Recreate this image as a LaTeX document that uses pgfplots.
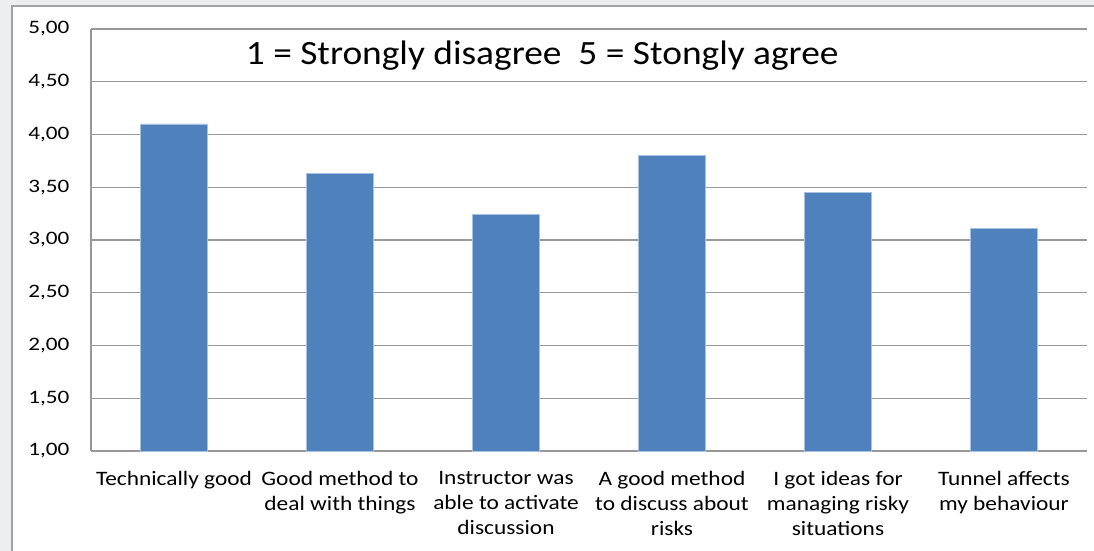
\documentclass[border=0pt]{standalone}
\usepackage{pgfplots}
\pgfplotsset{compat=1.18}
\usepackage{fontspec}
\setmainfont{Carlito}
\newfontfamily\tickfont[FakeStretch=1.22]{Carlito}
\newfontfamily\labfont[FakeStretch=1.14]{Carlito}
\newfontfamily\titlefont[FakeStretch=1.1]{Carlito}
\definecolor{barblue}{HTML}{4F81BD}
\definecolor{baredge}{HTML}{A9C1E0}
\definecolor{gridgray}{HTML}{989898}
\definecolor{bggray}{HTML}{EDEEF0}
\definecolor{bordergray}{HTML}{A3A3A3}
\begin{document}
\begin{tikzpicture}[x=1pt,y=1pt]
\useasboundingbox (0,0) rectangle (1094,551);
\fill[bggray] (0,0) rectangle (1094,551);
\filldraw[fill=white,draw=bordergray,line width=1.2pt] (12,-5) rectangle (1110,545);
\begin{axis}[
  at={(91pt,100pt)}, anchor=south west,
  width=996pt, height=422pt, scale only axis,
  xmin=-0.5, xmax=5.5, ymin=1, ymax=5,
  ytick={1,1.5,2,2.5,3,3.5,4,4.5,5},
  xtick={0,1,2,3,4,5},
  xticklabels={{Technically good},{Good method to\\deal with things},{Instructor was\\able to activate\\discussion},{A good method\\to discuss about\\risks},{I got ideas for\\managing risky\\situations},{Tunnel affects\\my behaviour}},
  xticklabel style={align=center, font=\labfont\fontsize{20.5}{25}\selectfont, text depth=0pt},
  yticklabel style={font=\tickfont\fontsize{19}{22}\selectfont},
  /pgf/number format/.cd, fixed, fixed zerofill, precision=2, use comma, assume math mode=true,
  /pgfplots/.cd,
  axis x line*=bottom, axis y line*=left,
  axis line style={draw=gridgray, line width=1.2pt},
  major tick length=0pt,
  ymajorgrids, grid style={draw=gridgray, line width=1.4pt},
  xtick pos=bottom,
  yticklabel shift=18pt,
  xticklabel shift=17pt,
  clip=false,
]
\addplot[ybar, bar width=0.4, fill=barblue, draw=baredge, line width=0.8pt]
  coordinates {(0,4.10) (1,3.63) (2,3.24) (3,3.80) (4,3.45) (5,3.11)};
\node[anchor=base, font=\titlefont\fontsize{34}{40}\selectfont] at (rel axis cs:0.453,0.917) {1 = Strongly disagree\ \ 5 = Stongly agree};
\end{axis}
\end{tikzpicture}
\end{document}
